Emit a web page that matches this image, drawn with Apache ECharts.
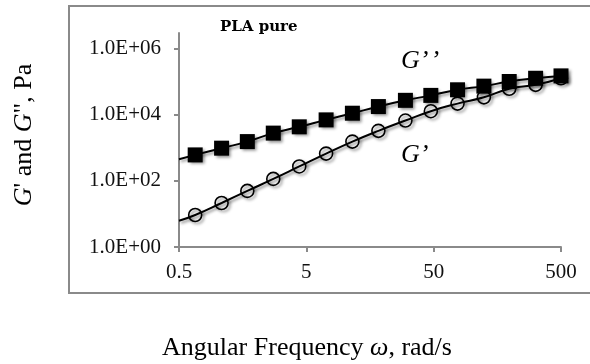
<!DOCTYPE html>
<html><head><meta charset="utf-8">
<script src="https://cdn.jsdelivr.net/npm/echarts@6/dist/echarts.min.js"></script>
<style>html,body{margin:0;padding:0;background:#fff}#c{width:590px;height:364px}</style>
</head><body><div id="c"></div>
<script>
// Angular frequency (rad/s)
const freq = [0.67, 1.08, 1.72, 2.75, 4.4, 7.15, 11.5, 18.4, 30, 47.5, 77, 124, 196, 316, 500];
// Loss modulus G'' (Pa)
const gLoss = [613, 980, 1550, 2800, 4340, 7040, 11200, 17800, 27500, 38800, 57300, 74000, 102000, 128000, 151000];
// Storage modulus G' (Pa)
const gStorage = [9.3, 21.5, 49.8, 115, 274, 672, 1550, 3280, 6720, 12900, 21900, 33900, 61400, 81000, 128000];
// fitted curve start values at the left axis edge (omega = 0.5)
const fitStart = {x: 0.5, gLoss: 455, gStorage: 6.2};
const xTicks = [0.5, 5, 50, 500];
const yTicks = [1, 100, 10000, 1000000];

const serif = 'Liberation Serif';
function yFmt(v){
  const e = Math.round(Math.log10(v));
  return '1.0E+' + (e < 10 ? '0' + e : e);
}
function build(vals, start){
  const d = [{value:[fitStart.x, start], symbol:'none'}];
  freq.forEach((f,i)=>d.push([f, vals[i]]));
  return d;
}
const shadow = {shadowBlur:3, shadowColor:'rgba(0,0,0,0.45)', shadowOffsetX:2, shadowOffsetY:2};
const chart = echarts.init(document.getElementById('c'), null, {renderer:'canvas'});
chart.setOption({
  animation:false,
  backgroundColor:'#fff',
  grid:{left:179, right:29, top:33, bottom:117},
  xAxis:{
    type:'log', min:0.5, max:500,
    axisLine:{show:true, lineStyle:{color:'#8a8a8a', width:2}},
    axisTick:{show:true, length:5, lineStyle:{color:'#8a8a8a', width:2}, customValues:xTicks},
    axisLabel:{fontFamily:serif, fontSize:21, color:'#111', margin:15, customValues:xTicks,
      formatter:v=>String(Math.round(v*10)/10)},
    splitLine:{show:false}, minorTick:{show:false}
  },
  yAxis:{
    type:'log', min:1, max:3e6,
    axisLine:{show:true, lineStyle:{color:'#8a8a8a', width:2}},
    axisTick:{show:true, length:5, lineStyle:{color:'#8a8a8a', width:2}, customValues:yTicks},
    axisLabel:{fontFamily:serif, fontSize:21, color:'#111', margin:18, customValues:yTicks, formatter:yFmt},
    splitLine:{show:false}
  },
  series:[
    {name:"G'", type:'line', smooth:true, clip:false, data:build(gStorage, fitStart.gStorage),
     symbol:'circle', symbolSize:13, z:2,
     lineStyle:Object.assign({color:'#000', width:2}, shadow),
     itemStyle:Object.assign({color:'rgba(0,0,0,0)', borderColor:'#000', borderWidth:1.6}, shadow)},
    {name:"G''", type:'line', smooth:true, clip:false, data:build(gLoss, fitStart.gLoss),
     symbol:'rect', symbolSize:15, z:3,
     lineStyle:Object.assign({color:'#000', width:2}, shadow),
     itemStyle:Object.assign({color:'#000'}, shadow)}
  ],
  graphic:[
    {type:'rect', shape:{x:69, y:6, width:540, height:287}, style:{fill:'none', stroke:'#8a8a8a', lineWidth:2}, z:-10},
    {type:'text', x:220, y:20, style:{text:'PLA pure', fontFamily:'DejaVu Serif', fontWeight:'bold', fontSize:15, fill:'#000'}},
    {type:'text', x:401, y:48, style:{text:'G’\u200a’', fontFamily:serif, fontStyle:'italic', fontSize:26, fill:'#000'}},
    {type:'text', x:401, y:142, style:{text:'G’', fontFamily:serif, fontStyle:'italic', fontSize:26, fill:'#000'}},
    {type:'text', x:307, y:348, style:{text:'Angular Frequency {i|ω}, rad/s', fontFamily:serif, fontSize:26, fill:'#000', align:'center', verticalAlign:'middle',
      rich:{i:{fontStyle:'italic', fontFamily:serif, fontSize:26}}}},
    {type:'text', x:24, y:135, rotation:Math.PI/2, style:{text:'{i|G}\' and {i|G}", Pa', fontFamily:serif, fontSize:26, fill:'#000', align:'center', verticalAlign:'middle',
      rich:{i:{fontStyle:'italic', fontFamily:serif, fontSize:26}}}}
  ]
});
</script></body></html>
